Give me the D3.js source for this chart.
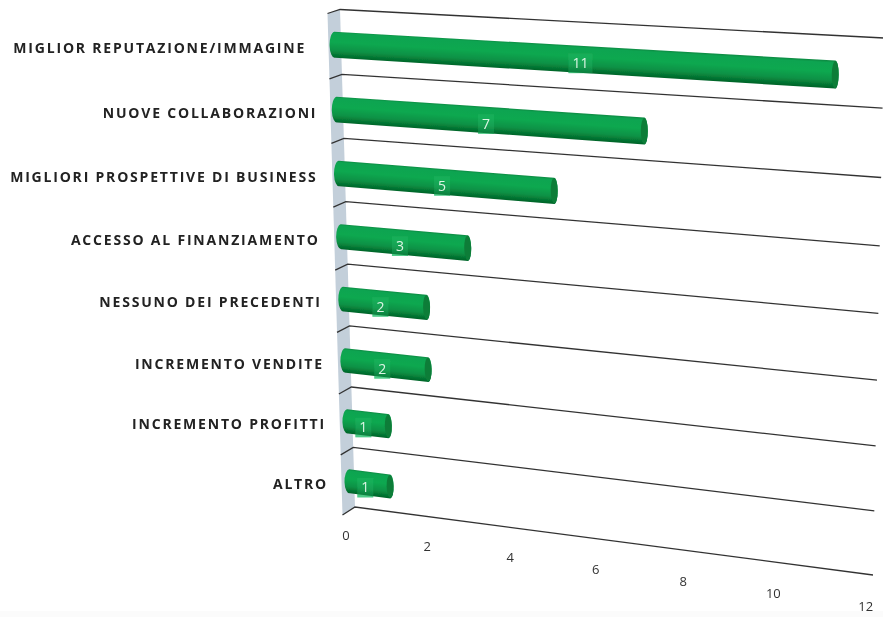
<!DOCTYPE html>
<html><head><meta charset="utf-8">
<script src="https://cdn.jsdelivr.net/npm/d3@7/dist/d3.min.js"></script>
<style>html,body{margin:0;padding:0;background:#fff}svg{display:block}</style>
</head><body><svg id="c" width="883" height="617"></svg>
<script>
const categories = ["MIGLIOR REPUTAZIONE/IMMAGINE","NUOVE COLLABORAZIONI","MIGLIORI PROSPETTIVE DI BUSINESS","ACCESSO AL FINANZIAMENTO","NESSUNO DEI PRECEDENTI","INCREMENTO VENDITE","INCREMENTO PROFITTI","ALTRO"];
const values = [11,7,5,3,2,2,1,1];
const axisMax = 12;

function homography(q){
  const [[x0,y0],[x1,y1],[x2,y2],[x3,y3]]=q;
  const dx1=x1-x2,dx2=x3-x2,sx=x0-x1+x2-x3,dy1=y1-y2,dy2=y3-y2,sy=y0-y1+y2-y3;
  const den=dx1*dy2-dx2*dy1,g=(sx*dy2-dx2*sy)/den,h=(dx1*sy-sx*dy1)/den;
  const a=x1-x0+g*x1,b=x3-x0+h*x3,d=y1-y0+g*y1,e=y3-y0+h*y3;
  return (u,t)=>{const w=g*u+h*t+1;return [(a*u+b*t+x0)/w,(d*u+e*t+y0)/w];};
}
const wallH = homography([[340,9.5],[884,38],[873,575],[355,507]]);
const barH  = homography([[333.5,12],[885.5,42],[873.5,581],[350.5,511]]);
const vScale = d3.scaleLinear().domain([0,axisMax]).range([0,1]);
const cScale = d3.scaleLinear().domain([0,categories.length]).range([0,1]);
const wall=(v,c)=>wallH(vScale(v),cScale(c));
const bar=(v,c)=>barH(vScale(v),cScale(c));

const svg=d3.select("#c");
const defs=svg.append("defs");
defs.append("filter").attr("id","soft").attr("x","-5%").attr("y","-5%").attr("width","110%").attr("height","110%")
  .append("feGaussianBlur").attr("stdDeviation",0.35);
svg.append("rect").attr("width",883).attr("height",617).attr("fill","#fff");
svg.append("rect").attr("y",611).attr("width",883).attr("height",6).attr("fill","#fbfbfb");
const g=svg.append("g").attr("filter","url(#soft)");

const n=categories.length, rows=d3.range(n+1);
const front=c=>{const p=wall(0,c);return [p[0]-12.5,p[1]+4+4*c/n];};

// side wall
g.append("path").attr("fill","#c3cfda")
 .attr("d",d3.line()([wall(0,0),wall(0,n),front(n),front(0)])+"Z");
// gridlines
g.selectAll(".grid").data(rows).join("path").attr("class","grid")
 .attr("fill","none").attr("stroke","#333").attr("stroke-width",1.3)
 .attr("d",c=>d3.line()([front(c),wall(0,c),wall(axisMax,c)]));

// tick labels
g.selectAll(".tick").data(vScale.ticks(6)).join("text").attr("class","tick")
 .attr("x",v=>wall(v,n)[0]-9+v*.15).attr("y",v=>wall(v,n)[1]+33+v*.25)
 .attr("text-anchor","middle").attr("font-family","'Open Sans',sans-serif")
 .attr("font-size",13).attr("fill","#333").text(d=>d);

// category labels
g.selectAll(".cat").data(categories).join("text").attr("class","cat")
 .attr("x",(d,i)=>bar(0,i+.5)[0]-21.5-(i===0?7:i===1?-2:0)).attr("y",(d,i)=>bar(0,i+.5)[1]+8)
 .attr("text-anchor","end").attr("font-family","'Open Sans',sans-serif").attr("font-weight",700)
 .attr("font-size",14).attr("letter-spacing",1.8).attr("fill","#222")
 .text(d=>d);

// cylinders
const half=0.2;
values.forEach((v,i)=>{
  const c=i+.5;
  const A=bar(0,c-half),B=bar(v,c-half),C=bar(v,c+half),D=bar(0,c+half);
  const m0=bar(v/2,c-half),m1=bar(v/2,c+half);
  const p0=bar(0,c),p1=bar(v,c);
  // gradient runs across the cylinder, perpendicular to its axis
  const ax=p1[0]-p0[0],ay=p1[1]-p0[1],al=Math.hypot(ax,ay);
  const nx=-ay/al,ny=ax/al,span=(m1[0]-m0[0])*nx+(m1[1]-m0[1])*ny;
  const id="gr"+i;
  const gr=defs.append("linearGradient").attr("id",id).attr("gradientUnits","userSpaceOnUse")
    .attr("x1",m0[0]).attr("y1",m0[1]).attr("x2",m0[0]+nx*span).attr("y2",m0[1]+ny*span);
  [[0,"#0c8c43"],[.07,"#11a451"],[.4,"#10a850"],[.72,"#0b9145"],[.92,"#04702f"],[1,"#03652a"]]
    .forEach(s=>gr.append("stop").attr("offset",s[0]).attr("stop-color",s[1]));
  const ryL=(D[1]-A[1])/2, ryR=(C[1]-B[1])/2;
  const lx=(p0[0]+p1[0])/2-4.5, ly=(p0[1]+p1[1])/2+3.5;
  const w=String(v).length>1?24:16;
  // the part of the label box that sticks out below the cylinder
  g.append("rect").attr("x",lx-w/2).attr("y",ly-9.5).attr("width",w).attr("height",19.5).attr("fill","#5ccf90");
  g.append("path").attr("fill",`url(#${id})`)
   .attr("d",`M${A}L${B}A3.5 ${ryR} 0 0 1 ${C}L${D}A5 ${ryL} 0 0 1 ${A}Z`);
  const angle=Math.atan2(C[1]-B[1],C[0]-B[0])*180/Math.PI-90;
  const cx=(B[0]+C[0])/2, cy=(B[1]+C[1])/2;
  g.append("ellipse").attr("cx",cx).attr("cy",cy).attr("rx",3.5).attr("ry",ryR-.4)
   .attr("transform",`rotate(${angle} ${cx} ${cy})`).attr("fill","#087d39");
  // value label
  g.append("rect").attr("x",lx-w/2).attr("y",ly-9.5).attr("width",w).attr("height",19.5)
   .attr("fill","#2cc070").attr("opacity",.3);
  g.append("text").attr("x",lx).attr("y",ly+5).attr("text-anchor","middle")
   .attr("font-family","'Open Sans',sans-serif").attr("font-size",14).attr("fill","#dcf5e4").text(v);
});
</script></body></html>
